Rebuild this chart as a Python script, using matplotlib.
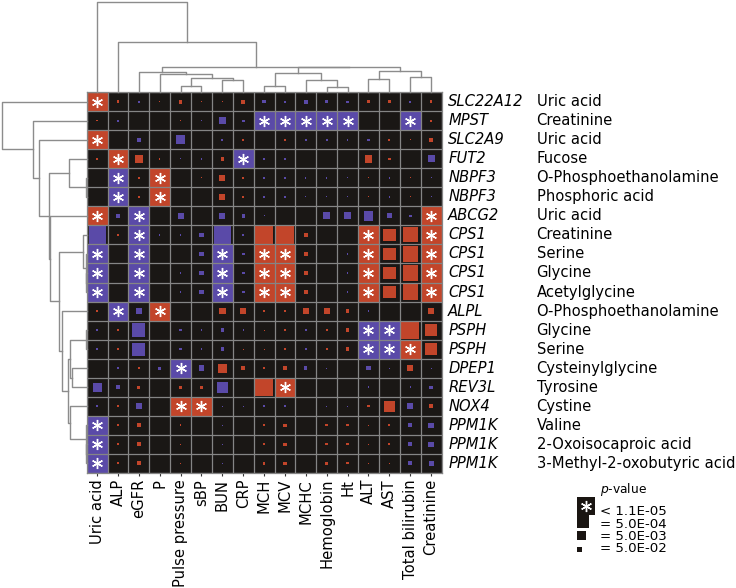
import numpy as np
import matplotlib
matplotlib.use("Agg")
import matplotlib.pyplot as plt
from matplotlib.patches import Rectangle
from matplotlib.transforms import blended_transform_factory

# ---------------- data ----------------
traits = ["Uric acid", "ALP", "eGFR", "P", "Pulse pressure", "sBP", "BUN", "CRP",
          "MCH", "MCV", "MCHC", "Hemoglobin", "Ht", "ALT", "AST",
          "Total bilirubin", "Creatinine"]
genes = ["SLC22A12", "MPST", "SLC2A9", "FUT2", "NBPF3", "NBPF3", "ABCG2",
         "CPS1", "CPS1", "CPS1", "CPS1", "ALPL", "PSPH", "PSPH", "DPEP1",
         "REV3L", "NOX4", "PPM1K", "PPM1K", "PPM1K"]
metabolites = ["Uric acid", "Creatinine", "Uric acid", "Fucose",
               "O-Phosphoethanolamine", "Phosphoric acid", "Uric acid",
               "Creatinine", "Serine", "Glycine", "Acetylglycine",
               "O-Phosphoethanolamine", "Glycine", "Serine", "Cysteinylglycine",
               "Tyrosine", "Cystine", "Valine", "2-Oxoisocaproic acid",
               "3-Methyl-2-oxobutyric acid"]

# signed -log10(p): positive = red, negative = blue
signed_logp = np.array([
    [6, 0.7, -0.5, 0.2, 1.0, 0.25, 0.25, 1.0, -0.9, -0.4, -1.0, -0.85, -0.6, 0.9, 0.7, -0.6, 0.7],
    [0.35, -0.5, 0.1, 0.1, 0.25, -0.25, -1.9, -0.7, -6, -6, -6, -6, -6, 0.15, 0.15, -6, 0.4],
    [6, 0.15, -1.2, 0.15, -2.4, 0.15, -0.5, 0.6, 0.1, 0.4, -0.4, -0.5, -0.4, -0.6, 0.6, 0.25, 1.0],
    [0.4, 6, 2.1, 0.35, -0.3, -0.5, 0.95, -6, -0.5, -0.35, 0.15, 0.15, 0.15, 2.1, 0.7, 0.1, -1.9],
    [0.15, -6, 0.35, 6, 0.05, 0.25, 1.55, 0.5, -0.5, -0.7, -0.35, -0.35, -0.25, 0.25, -0.4, 0.25, -0.3],
    [0.1, -6, 0.35, 6, 0.05, 0.2, 1.55, 0.5, -0.5, -0.7, -0.3, -0.3, -0.25, 0.25, -0.4, 0.25, -0.3],
    [6, -0.95, -6, 0.05, -1.55, 0.05, -1.55, -0.85, -0.25, 0.05, 0.05, -1.9, -1.9, -2.6, -1.3, -0.7, 6],
    [-4.6, 0.35, -6, -0.35, -0.35, -1.2, -4.6, -0.6, 4.9, 4.9, 1.2, 0.15, 0.15, 6, 3.4, 4.0, 6],
    [-6, 0.1, -6, -0.25, -0.25, -1.3, -6, -0.7, 6, 6, 1.2, 0.15, -0.4, 6, 3.4, 4.1, 6],
    [-6, 0.1, -6, -0.25, -0.35, -1.2, -6, -0.7, 6, 6, 1.2, 0.15, -0.45, 6, 3.4, 4.1, 6],
    [-6, 0.1, -6, -0.25, -0.35, -1.2, -6, -0.7, 6, 6, 1.2, 0.15, -0.45, 6, 3.4, 4.1, 6],
    [0.35, -6, -1.4, 6, 0.1, 0.1, 1.7, 1.6, 0.5, 0.35, 1.7, 1.55, 0.85, -0.35, -0.25, 0.15, 1.6],
    [-0.5, 0.45, -3.5, 0.05, -0.6, -0.5, -0.85, -0.35, 0.25, 0.45, -0.5, 0.6, 1.0, -6, -6, 4.9, 3.0],
    [-0.5, 0.45, -3.5, 0.1, -0.6, -0.5, -0.85, 0.25, 0.25, 0.45, -0.5, 0.6, 1.0, -6, -6, 6, 3.0],
    [0.1, -0.45, 0.45, -0.8, -6, -1.55, 2.4, 1.2, 0.35, 0.85, -0.85, -0.25, 0.15, -1.2, -0.25, 1.7, -0.25],
    [-2.4, -1.2, 0.85, 0.1, 0.8, 0.8, -2.9, 0.1, 4.8, 6, 0.1, 0.1, 0.1, -0.35, -0.15, -0.35, -0.85],
    [-0.35, 0.7, -1.55, 0.05, 6, 6, -0.25, -0.25, -0.35, -0.35, 0.1, -0.25, -0.25, 0.7, 3.0, -1.55, 1.0],
    [-6, 0.5, 1.2, 0.05, 0.35, 0.1, -0.25, 0.1, 0.7, 0.85, 0.15, 0.7, 0.7, 0.25, 0.45, -1.2, -1.4],
    [-6, 0.5, 1.2, 0.05, 0.35, 0.1, -0.25, 0.1, 0.7, 0.85, 0.15, 0.7, 0.7, 0.25, 0.45, -1.2, -1.4],
    [-6, 0.5, 1.2, 0.05, 0.25, 0.05, -0.25, 0.05, 0.7, 0.85, 0.05, 0.7, 0.6, 0.25, 0.35, -1.0, -1.3],
])

P_STAR = 1.1e-5
legend_p = [5.0e-4, 5.0e-3, 5.0e-2]

# dendrograms as (left, right, merge height); leaves are column / row indices
col_tree = (0, (1, (((2, (3, ((4, 5, 6.3), (6, 7, 12.3), 14), 18), 20.3),
                     (((8, 9, 6.7), (10, (11, 12, 5), 12), 19),
                      ((13, 14, 13.7), (15, 16, 15.7), 21), 25), 25.7)), 50.3), 90.7)
row_tree = (0, (1, (2, ((3, (4, 5, 0.7), 17.3),
                        (6, ((7, (8, (9, 10, 0.5), 0.8), 4),
                             (11, (((12, 13, 0.7), (14, 15, 15), 16.7),
                                   (16, (17, (18, 19, 0.5), 0.8), 16.7), 19), 25),
                             27.3), 36.7), 37.7), 47.7), 54), 85)

RED = "#c2452a"
BLUE = "#5a4aa8"
BG = "#1a1715"
GRID = "#858585"
DENDRO = "#8c8c8c"
PX_PER_DECADE = 3.75

W, H, DPI = 736, 588, 100
fig = plt.figure(figsize=(W / DPI, H / DPI), dpi=DPI)


def frac(x0, y0, x1, y1):
    return [x0 / W, 1 - y1 / H, (x1 - x0) / W, (y1 - y0) / H]


def walk(node, segs):
    if isinstance(node, int):
        return node, 0.0
    l, r, h = node
    pl, hl = walk(l, segs)
    pr, hr = walk(r, segs)
    segs.append(([pl, pl, pr, pr], [hl, h, h, hr]))
    return (pl + pr) / 2, h


nrow, ncol = signed_logp.shape
X0, Y0, X1, Y1 = 86.7, 92.3, 441.5, 472.7
STAR = dict(marker=(6, 2, 0), ms=8, mew=1.0, color="white")

# -------------------- heatmap --------------------
ax = fig.add_axes(frac(X0, Y0, X1, Y1))
ax.set_facecolor(BG)
ax.set_xlim(-0.5, ncol - 0.5)
ax.set_ylim(nrow - 0.5, -0.5)
bb = ax.get_window_extent()
cw, ch = bb.width / ncol, bb.height / nrow
star_level = -np.log10(P_STAR)

for i in range(nrow):
    for j in range(ncol):
        v = signed_logp[i, j]
        c = RED if v > 0 else BLUE
        L = abs(v)
        if L >= star_level:
            ax.add_patch(Rectangle((j - 0.5, i - 0.5), 1, 1, color=c, lw=0, zorder=1))
            ax.plot(j, i, zorder=4, **STAR)
        else:
            s = PX_PER_DECADE * L
            w, h = min(s / cw, 1), min(s / ch, 1)
            ax.add_patch(Rectangle((j - w / 2, i - h / 2), w, h, color=c, lw=0, zorder=1))

ax.vlines(np.arange(ncol + 1) - 0.5, -0.5, nrow - 0.5, color=GRID, lw=0.9, zorder=3)
ax.hlines(np.arange(nrow + 1) - 0.5, -0.5, ncol - 0.5, color=GRID, lw=0.9, zorder=3)
for sp in ax.spines.values():
    sp.set_color(GRID)
    sp.set_linewidth(0.9)

ax.set_xticks(np.arange(ncol))
ax.set_xticklabels(traits, rotation=90, fontsize=10.6)
ax.set_yticks([])
ax.tick_params(axis="x", length=2.5, width=0.8, pad=2, color="#333333")

tr = blended_transform_factory(ax.transAxes, ax.transData)
for i, (g, m) in enumerate(zip(genes, metabolites)):
    ax.text(1.019, i, g, transform=tr, ha="left", va="center",
            fontsize=10.6, style="italic")
    ax.text(1.268, i, m, transform=tr, ha="left", va="center", fontsize=10.6)

# -------------------- dendrograms --------------------
axt = fig.add_axes(frac(X0, 0, X1, Y0))
segs = []
walk(col_tree, segs)
for xs, ys in segs:
    axt.plot(xs, ys, color=DENDRO, lw=1.0, clip_on=False)
axt.set_xlim(-0.5, ncol - 0.5)
axt.set_ylim(0, Y0)
axt.axis("off")

axl = fig.add_axes(frac(0, Y0, X0, Y1))
segs = []
walk(row_tree, segs)
for ys, xs in segs:
    axl.plot(xs, ys, color=DENDRO, lw=1.0, clip_on=False)
axl.set_xlim(X0, 0)
axl.set_ylim(nrow - 0.5, -0.5)
axl.axis("off")

# -------------------- size legend --------------------
lax = fig.add_axes([0, 0, 1, 1])
lax.set_xlim(0, W)
lax.set_ylim(H, 0)
lax.axis("off")
lax.text(600, 490, r"$\it{p}$-value", fontsize=8.8, ha="left", va="center")
base = [515, 527.5, 540, 552]
labels = ["< 1.1E-05"] + [f"= {p:.1E}" for p in legend_p]
sizes = [18.3] + [PX_PER_DECADE * -np.log10(p) for p in legend_p]
for yb, lab, s in zip(base, labels, sizes):
    lax.add_patch(Rectangle((577, yb - s), s, s, color="#1a1512", lw=0))
    lax.text(600, yb, lab, fontsize=9.6, ha="left", va="baseline")
lax.plot(577 + sizes[0] / 2, base[0] - sizes[0] / 2, **STAR)

fig.savefig("out.png", dpi=DPI)
